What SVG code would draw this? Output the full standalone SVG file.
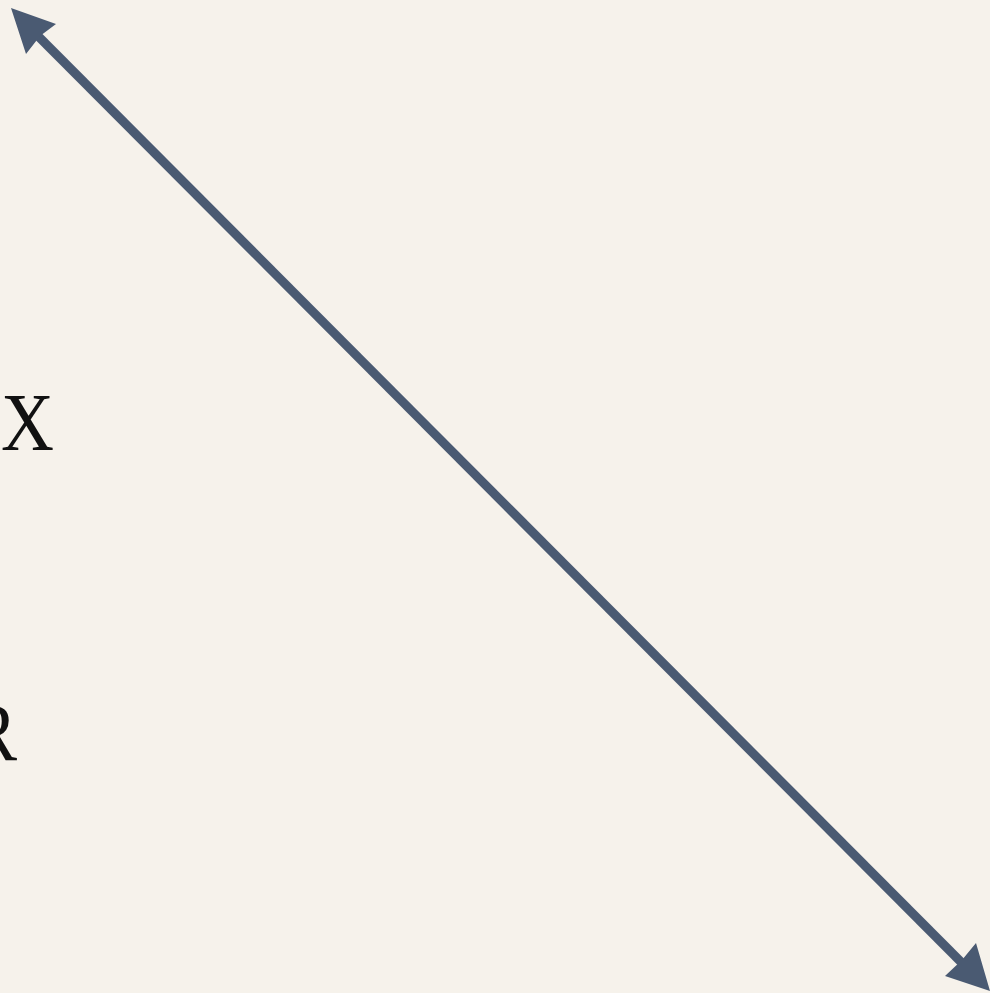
<svg xmlns="http://www.w3.org/2000/svg" width="990" height="993" viewBox="0 0 990 993">
<style>
.lbl{font-family:"Liberation Serif","Times New Roman",serif;font-size:83px;fill:#111}
.conn{stroke:#4a5a72;stroke-width:9;fill:none}
.head{fill:#4a5a72}
</style>
<rect width="990" height="993" fill="#f6f2eb"/>
<g id="label-x"><text class="lbl" x="1" y="450" textLength="53" lengthAdjust="spacingAndGlyphs">X</text></g>
<g id="label-r"><text class="lbl" x="-31" y="760" textLength="48" lengthAdjust="spacingAndGlyphs">R</text></g>
<g id="connectors">
<line class="conn" x1="36" y1="34" x2="965" y2="966"/>
<polygon class="head" points="11,8 56,24 40,36 26,54"/>
<polygon class="head" points="990,991 976,943 962,960 945,976"/>
</g>
</svg>
